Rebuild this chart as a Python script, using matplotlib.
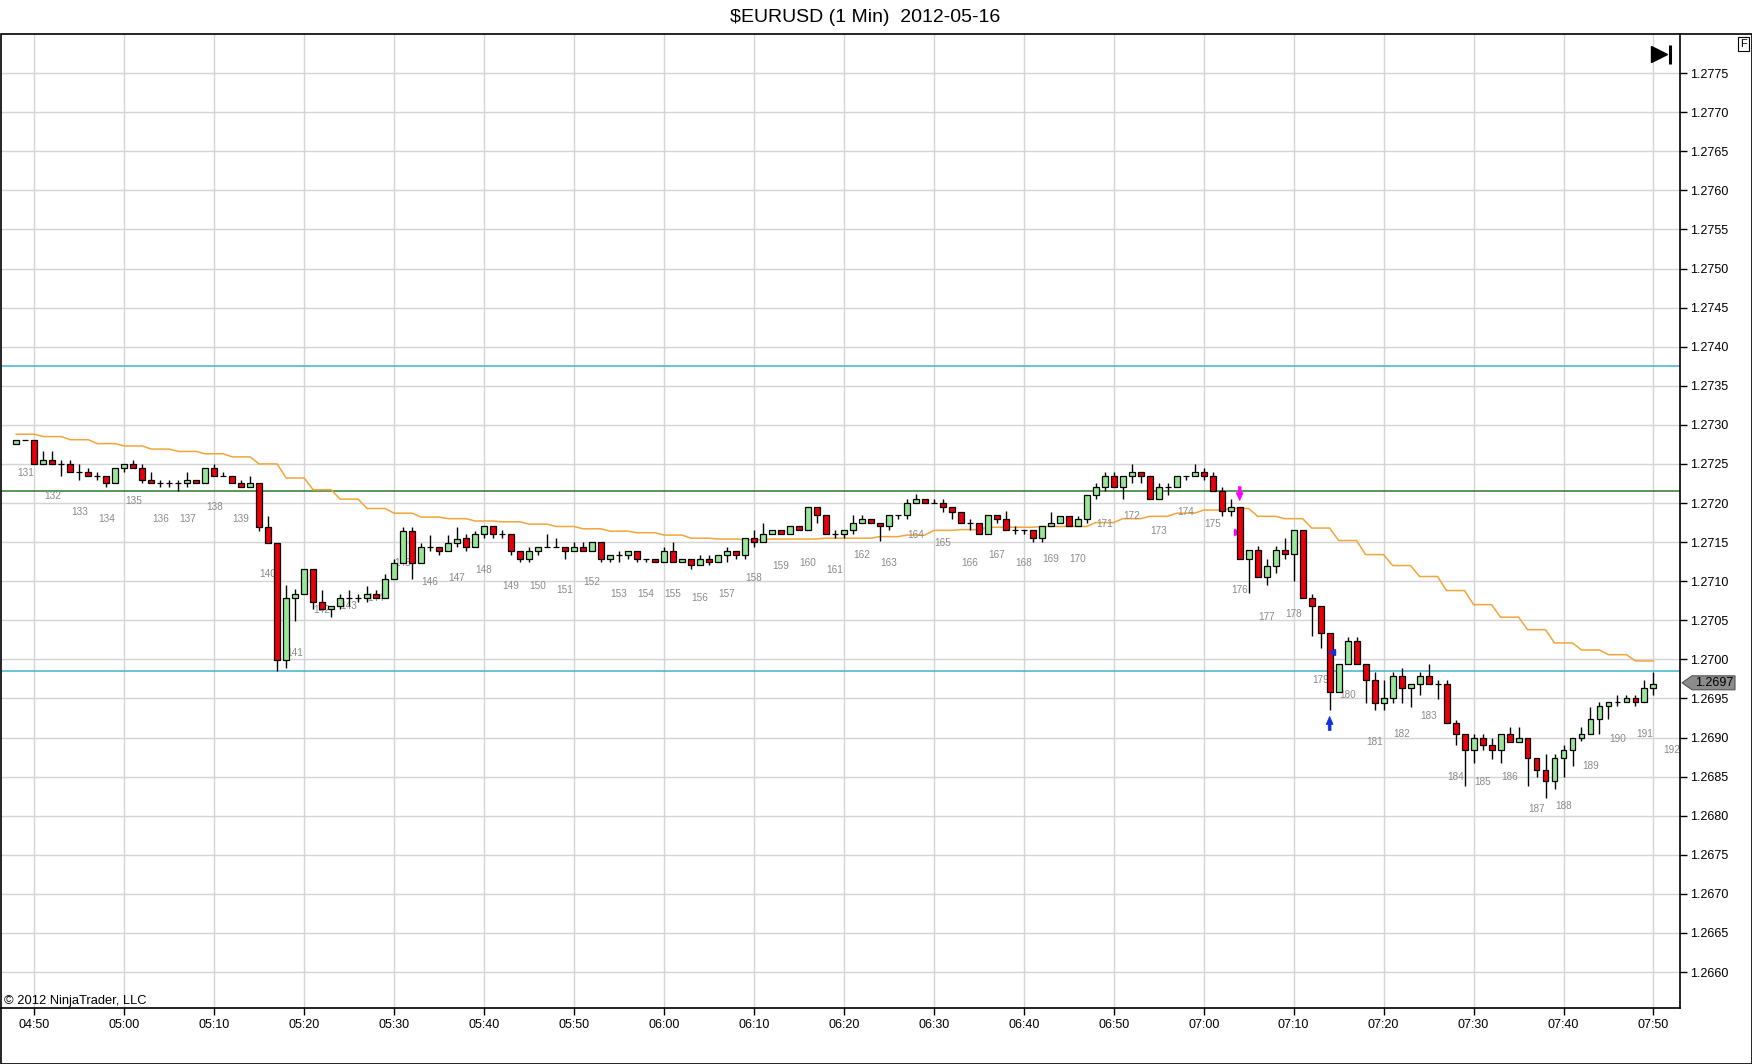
import numpy as np
import matplotlib
matplotlib.use("Agg")
import matplotlib.pyplot as plt
from matplotlib.patches import Polygon, Rectangle
from matplotlib.transforms import blended_transform_factory

plt.rcParams['font.family'] = ['Liberation Sans', 'DejaVu Sans']

TITLE = "$EURUSD (1 Min)  2012-05-16"

# minutes after 04:50, one bar per minute (04:48 .. 07:50)
MINUTES = list(range(-2, 181))

OPENS = [
    1.27276, 1.27281, 1.27281, 1.2725, 1.27255, 1.2725, 1.2725, 1.2724, 1.2724, 1.27235,
    1.27235, 1.27225, 1.27245, 1.2725, 1.27245, 1.2723, 1.27225, 1.27225, 1.27225, 1.27225,
    1.2723, 1.27225, 1.27245, 1.27235, 1.27235, 1.27225, 1.2722, 1.27225, 1.27169, 1.27149,
    1.26999, 1.27079, 1.27084, 1.27115, 1.27073, 1.27065, 1.27068, 1.27079, 1.27079, 1.27079,
    1.27084, 1.27079, 1.27103, 1.27123, 1.27164, 1.27123, 1.27144, 1.27144, 1.27138, 1.27149,
    1.27155, 1.27144, 1.2716, 1.27171, 1.2716, 1.2716, 1.27139, 1.27129, 1.27139, 1.27144,
    1.27144, 1.27144, 1.27139, 1.27144, 1.27139, 1.2715, 1.27129, 1.27134, 1.27134, 1.27139,
    1.27129, 1.27129, 1.27124, 1.27139, 1.27124, 1.27129, 1.27121, 1.27129, 1.27124, 1.27134,
    1.27139, 1.27134, 1.27155, 1.2715, 1.2716, 1.27165, 1.2716, 1.27171, 1.27165, 1.27195,
    1.27185, 1.27161, 1.27161, 1.27165, 1.27175, 1.27179, 1.27175, 1.27171, 1.27185, 1.27185,
    1.272, 1.27205, 1.272, 1.272, 1.27195, 1.27189, 1.27174, 1.27174, 1.27161, 1.27185,
    1.27179, 1.27165, 1.27165, 1.27165, 1.27155, 1.2717, 1.27174, 1.27184, 1.2717, 1.27179,
    1.2721, 1.27221, 1.27235, 1.27221, 1.27235, 1.2724, 1.27235, 1.27205, 1.27221, 1.27221,
    1.27235, 1.27235, 1.2724, 1.27235, 1.27215, 1.2719, 1.27195, 1.27129, 1.2714, 1.27105,
    1.2712, 1.2714, 1.27135, 1.27165, 1.27079, 1.27068, 1.27034, 1.26958, 1.26994, 1.27024,
    1.26994, 1.26974, 1.26944, 1.2695, 1.26979, 1.26964, 1.26969, 1.26979, 1.26969, 1.26969,
    1.26918, 1.26905, 1.26884, 1.269, 1.2689, 1.26884, 1.26905, 1.26894, 1.269, 1.26874,
    1.26859, 1.26845, 1.26874, 1.26884, 1.269, 1.26905, 1.26924, 1.2694, 1.26945, 1.26945,
    1.2695, 1.26945, 1.26964,
]
HIGHS = [
    1.27281, 1.27281, 1.27281, 1.27266, 1.27266, 1.27255, 1.27255, 1.2725, 1.27245, 1.2724,
    1.27235, 1.27245, 1.2725, 1.27255, 1.2725, 1.2724, 1.2723, 1.2723, 1.2723, 1.2724,
    1.2723, 1.27245, 1.2725, 1.2724, 1.27235, 1.2723, 1.27235, 1.27225, 1.27183, 1.27149,
    1.27095, 1.2709, 1.27115, 1.27115, 1.27089, 1.27068, 1.27084, 1.27089, 1.27084, 1.27094,
    1.27089, 1.27109, 1.27128, 1.27169, 1.27169, 1.27149, 1.27159, 1.27144, 1.27159, 1.27169,
    1.2716, 1.27164, 1.27171, 1.27171, 1.27166, 1.2716, 1.27139, 1.27144, 1.27144, 1.2716,
    1.27155, 1.27144, 1.2715, 1.2715, 1.2715, 1.2715, 1.27134, 1.27139, 1.27139, 1.27139,
    1.27129, 1.27129, 1.27144, 1.2715, 1.27129, 1.27129, 1.27134, 1.27134, 1.27134, 1.27144,
    1.27139, 1.27155, 1.27166, 1.27175, 1.27165, 1.27165, 1.27171, 1.27171, 1.27195, 1.27195,
    1.27185, 1.27166, 1.27165, 1.27185, 1.27185, 1.27179, 1.27175, 1.27185, 1.27185, 1.27205,
    1.27211, 1.27205, 1.27205, 1.27205, 1.27195, 1.27189, 1.27179, 1.27174, 1.27185, 1.27185,
    1.2719, 1.2717, 1.27165, 1.27165, 1.2717, 1.27189, 1.27184, 1.27184, 1.27184, 1.2721,
    1.27226, 1.2724, 1.2724, 1.27235, 1.2725, 1.2724, 1.27235, 1.27226, 1.27226, 1.27235,
    1.27235, 1.2725, 1.27245, 1.2724, 1.27221, 1.27205, 1.27195, 1.2714, 1.27145, 1.27129,
    1.27145, 1.27155, 1.27165, 1.27165, 1.27084, 1.27068, 1.27034, 1.26994, 1.27029, 1.27029,
    1.26994, 1.26984, 1.26974, 1.26984, 1.26989, 1.26969, 1.26984, 1.26994, 1.26974, 1.26974,
    1.26923, 1.26905, 1.26905, 1.26905, 1.269, 1.26905, 1.26913, 1.26913, 1.269, 1.26874,
    1.26879, 1.26879, 1.2689, 1.269, 1.26914, 1.26939, 1.26945, 1.26945, 1.26955, 1.26955,
    1.26955, 1.26974, 1.26984,
]
LOWS = [
    1.27276, 1.27281, 1.2725, 1.2725, 1.2725, 1.27234, 1.2724, 1.2723, 1.27235, 1.27229,
    1.2722, 1.27225, 1.2724, 1.27245, 1.27225, 1.27225, 1.2722, 1.2722, 1.27216, 1.2722,
    1.27225, 1.27225, 1.27235, 1.27235, 1.27225, 1.2722, 1.2722, 1.27164, 1.27149, 1.26985,
    1.26989, 1.27049, 1.27084, 1.27065, 1.27065, 1.27054, 1.27065, 1.27068, 1.27073, 1.27073,
    1.27079, 1.27079, 1.27103, 1.27123, 1.27103, 1.27123, 1.27138, 1.27133, 1.27138, 1.27144,
    1.27139, 1.27144, 1.27155, 1.27155, 1.27155, 1.27134, 1.27124, 1.27124, 1.27134, 1.27144,
    1.27144, 1.27129, 1.27139, 1.27139, 1.27139, 1.27124, 1.27124, 1.27124, 1.27129, 1.27124,
    1.27124, 1.27124, 1.27124, 1.27124, 1.27124, 1.27115, 1.27121, 1.27121, 1.27124, 1.27124,
    1.27129, 1.27129, 1.27144, 1.2715, 1.2716, 1.2716, 1.2716, 1.27165, 1.27165, 1.27174,
    1.27161, 1.27155, 1.27155, 1.2716, 1.27175, 1.27175, 1.27151, 1.27165, 1.27179, 1.27179,
    1.272, 1.272, 1.272, 1.27189, 1.27179, 1.27174, 1.27165, 1.27161, 1.27161, 1.27174,
    1.27165, 1.2716, 1.2716, 1.2715, 1.2715, 1.2717, 1.27174, 1.2717, 1.2717, 1.27174,
    1.27205, 1.27215, 1.27221, 1.27205, 1.27226, 1.27226, 1.27205, 1.27205, 1.2721, 1.27221,
    1.2723, 1.27235, 1.2723, 1.27215, 1.27184, 1.27184, 1.27129, 1.27085, 1.27105, 1.27095,
    1.2711, 1.27129, 1.271, 1.27079, 1.2703, 1.27014, 1.26935, 1.26958, 1.26994, 1.26994,
    1.26944, 1.26935, 1.26935, 1.26944, 1.26944, 1.26939, 1.26954, 1.26969, 1.26949, 1.26918,
    1.2689, 1.26838, 1.26868, 1.26884, 1.26873, 1.26868, 1.26894, 1.26894, 1.26838, 1.26849,
    1.26823, 1.26834, 1.26849, 1.26864, 1.26896, 1.26905, 1.26905, 1.26924, 1.2694, 1.26945,
    1.2694, 1.26945, 1.26955,
]
CLOSES = [
    1.27281, 1.27281, 1.2725, 1.27255, 1.2725, 1.2725, 1.2724, 1.2724, 1.27235, 1.27235,
    1.27225, 1.27245, 1.2725, 1.27245, 1.2723, 1.27225, 1.27225, 1.27225, 1.27225, 1.2723,
    1.27225, 1.27245, 1.27235, 1.27235, 1.27225, 1.2722, 1.27225, 1.27169, 1.27149, 1.26999,
    1.27079, 1.27084, 1.27115, 1.27073, 1.27065, 1.27068, 1.27079, 1.27079, 1.27079, 1.27084,
    1.27079, 1.27103, 1.27123, 1.27164, 1.27123, 1.27144, 1.27144, 1.27138, 1.27149, 1.27154,
    1.27144, 1.2716, 1.27171, 1.2716, 1.2716, 1.27139, 1.27129, 1.27139, 1.27144, 1.27144,
    1.27144, 1.27139, 1.27144, 1.27139, 1.2715, 1.27129, 1.27134, 1.27134, 1.27139, 1.27129,
    1.27129, 1.27124, 1.27139, 1.27124, 1.27129, 1.27121, 1.27129, 1.27124, 1.27134, 1.27139,
    1.27134, 1.27155, 1.2715, 1.2716, 1.27165, 1.2716, 1.27171, 1.27165, 1.27195, 1.27185,
    1.27161, 1.27161, 1.27165, 1.27175, 1.27179, 1.27175, 1.27171, 1.27185, 1.27185, 1.272,
    1.27205, 1.272, 1.272, 1.27195, 1.27189, 1.27174, 1.27174, 1.27161, 1.27185, 1.27179,
    1.27165, 1.27165, 1.27165, 1.27155, 1.2717, 1.27174, 1.27184, 1.2717, 1.27179, 1.2721,
    1.27221, 1.27235, 1.27221, 1.27235, 1.2724, 1.27235, 1.27205, 1.27221, 1.27221, 1.27235,
    1.27235, 1.2724, 1.27235, 1.27215, 1.2719, 1.27195, 1.27129, 1.2714, 1.27105, 1.2712,
    1.2714, 1.27135, 1.27165, 1.27079, 1.27068, 1.27034, 1.26958, 1.26994, 1.27024, 1.26994,
    1.26974, 1.26944, 1.2695, 1.26979, 1.26964, 1.26969, 1.26979, 1.26969, 1.26969, 1.26918,
    1.26905, 1.26884, 1.269, 1.2689, 1.26884, 1.26905, 1.26894, 1.269, 1.26874, 1.26859,
    1.26845, 1.26874, 1.26884, 1.269, 1.26905, 1.26924, 1.2694, 1.26945, 1.26945, 1.2695,
    1.26945, 1.26964, 1.26969,
]

# orange indicator, one value per 3-minute block (held for 3 bars)
ORANGE_3MIN = [
    1.27288, 1.27285, 1.27281, 1.27276, 1.27273, 1.27269, 1.27266, 1.27263, 1.27259, 1.2725,
    1.27232, 1.27217, 1.27205, 1.27193, 1.27187, 1.27182, 1.2718, 1.27177, 1.27176, 1.27173,
    1.2717, 1.27167, 1.27164, 1.27162, 1.27159, 1.27155, 1.27154, 1.27153, 1.27154, 1.27154,
    1.27155, 1.27155, 1.27157, 1.27159, 1.27165, 1.27166, 1.27169, 1.27169, 1.2717, 1.2717,
    1.27175, 1.2718, 1.27183, 1.27187, 1.27191, 1.27193, 1.27183, 1.2718, 1.27168, 1.27152,
    1.27134, 1.2712, 1.27106, 1.27088, 1.2707, 1.27054, 1.27038, 1.27021, 1.27012, 1.27006,
    1.26998,
]

# 3-minute bar counter labels
LABEL_NUMS = list(range(131, 193))
LABEL_MINUTES = list(range(-1, 183, 3))
LABEL_PRICES = [
    1.27239, 1.27209, 1.27189, 1.27179, 1.27203, 1.27179, 1.27179, 1.27195, 1.27179, 1.27109,
    1.27008, 1.27063, 1.27068, 1.27078, 1.27123, 1.27099, 1.27104, 1.27114, 1.27094, 1.27094,
    1.27089, 1.27099, 1.27084, 1.27084, 1.27084, 1.27078, 1.27084, 1.27104, 1.2712, 1.27123,
    1.27114, 1.27133, 1.27123, 1.27159, 1.27149, 1.27123, 1.27133, 1.27123, 1.27129, 1.27129,
    1.27173, 1.27183, 1.27164, 1.27189, 1.27173, 1.27089, 1.27054, 1.27058, 1.26974, 1.26954,
    1.26894, 1.26904, 1.26928, 1.26849, 1.26843, 1.26849, 1.26809, 1.26813, 1.26863, 1.26898,
    1.26904, 1.26884,
]

# signal arrows: bar minute, arrow tip price, direction (+1 up, -1 down)
SIGNAL_MINUTES = [134, 144]
SIGNAL_TIPS = [1.27203, 1.26927]
SIGNAL_DIRS = [-1, 1]
SIGNAL_COLORS = ['#ff00ff', '#1030e0']

CYAN_LEVELS = [1.27375, 1.26985]
GREEN_LEVEL = 1.27215
LAST_PRICE = 1.2697

TIME_TICKS = list(range(0, 181, 10))
TIME_LABELS = ['04:50', '05:00', '05:10', '05:20', '05:30', '05:40', '05:50',
               '06:00', '06:10', '06:20', '06:30', '06:40', '06:50',
               '07:00', '07:10', '07:20', '07:30', '07:40', '07:50']
PRICE_TICKS = np.linspace(1.2660, 1.2775, 24)

W, H = 1752, 1064
PX_PER_PRICE = 78200      # vertical pixels per 1.0 of price
PX_PER_MIN = 9            # horizontal pixels per bar

fig = plt.figure(figsize=(W / 100, H / 100), dpi=100)
ax = fig.add_axes([1 / W, 1 - 1008 / H, 1679 / W, 974 / H])

x = np.array(MINUTES, dtype=float)
o = np.array(OPENS)
h = np.array(HIGHS)
l = np.array(LOWS)
c = np.array(CLOSES)

# ── grid & reference lines ──────────────────────────────────────
ax.set_axisbelow(True)
ax.grid(True, color='#d4d4d4', linewidth=1)
for lv in CYAN_LEVELS:
    ax.axhline(lv, color='#3fb3cc', linewidth=1.1, zorder=1.2)
ax.axhline(GREEN_LEVEL, color='#2b7a2b', linewidth=1.1, zorder=1.2)

ax.plot(x, np.repeat(ORANGE_3MIN, 3), color='#f2a53a', linewidth=1.1, zorder=1.4)

for n, m, p in zip(LABEL_NUMS, LABEL_MINUTES, LABEL_PRICES):
    ax.text(m, p, str(n), ha='center', va='center', fontsize=7.2,
            color='#8a8a8a', zorder=1.5)

# ── candles ────────────────────────────────────────────────────
colors = np.where(c >= o, '#98e698', '#e8000b')
ax.vlines(x, l, h, color='black', linewidth=1, zorder=2)
ax.bar(x, c - o, bottom=o, width=0.66, color=colors, edgecolor='black',
       linewidth=0.9, zorder=3)


def signal_arrow(m, tip, direction, color):
    # arrow 14 px tall: 8 px head (7 px wide), 3 px wide shaft
    hw, sw = 3.5 / PX_PER_MIN, 1.4 / PX_PER_MIN
    head, total = 8 / PX_PER_PRICE, 14 / PX_PER_PRICE
    base = tip - direction * head
    tail = tip - direction * total
    pts = [(m, tip), (m + hw, base), (m + sw, base), (m + sw, tail),
           (m - sw, tail), (m - sw, base), (m - hw, base)]
    ax.add_patch(Polygon(pts, closed=True, facecolor=color, edgecolor=color,
                         linewidth=0.5, zorder=4))


for m, tip, d, col in zip(SIGNAL_MINUTES, SIGNAL_TIPS, SIGNAL_DIRS, SIGNAL_COLORS):
    signal_arrow(m, tip, d, col)

ax.plot([133.7], [1.27163], marker='>', color='#ff00ff', markersize=5, zorder=2.5)
ax.plot([144.3], [1.27009], marker='<', color='#1030e0', markersize=5, zorder=4)

# ── axes ───────────────────────────────────────────────────────
ax.set_xlim(-3.7, 182.95)
ax.set_ylim(1.26554, 1.27800)
ax.set_xticks(TIME_TICKS)
ax.set_xticklabels(TIME_LABELS)
ax.yaxis.tick_right()
ax.set_yticks(PRICE_TICKS)
ax.set_yticklabels([f"{v:.4f}" for v in PRICE_TICKS])
ax.tick_params(axis='both', direction='out', length=5, width=1, labelsize=9, colors='black')
ax.tick_params(axis='y', pad=2)
ax.tick_params(axis='x', pad=3)
for side in ['left', 'top']:
    ax.spines[side].set_visible(False)
for side in ['right', 'bottom']:
    ax.spines[side].set_linewidth(1.2)

# last price tag
tr = blended_transform_factory(ax.transAxes, ax.transData)
dx = 1 / 1679
dy = 7 / PX_PER_PRICE
tag = Polygon([(1 + 2 * dx, LAST_PRICE), (1 + 12 * dx, LAST_PRICE + dy),
               (1 + 55 * dx, LAST_PRICE + dy), (1 + 55 * dx, LAST_PRICE - dy),
               (1 + 12 * dx, LAST_PRICE - dy)], closed=True, transform=tr,
              facecolor='#8c8c8c', edgecolor='#555555', linewidth=0.8, clip_on=False, zorder=5)
ax.add_patch(tag)
ax.text(1 + 34 * dx, LAST_PRICE, f"{LAST_PRICE:.4f}", transform=tr, ha='center',
        va='center', fontsize=9, color='black', zorder=6, clip_on=False)

# ">|" scroll icon and copyright
ax.plot([1658 / 1679], [1 - 20 / 974], marker='>', color='black', markersize=11,
        transform=ax.transAxes, clip_on=False, zorder=6)
ax.plot([1669 / 1679, 1669 / 1679], [1 - 11 / 974, 1 - 30 / 974], color='black',
        linewidth=2.2, transform=ax.transAxes, solid_capstyle='butt', zorder=6)
ax.text(3 / 1679, 4 / 974, "\u00a9 2012 NinjaTrader, LLC", transform=ax.transAxes,
        fontsize=9.3, ha='left', va='baseline', color='black', zorder=6)

# ── frame, title, F box ────────────────────────────────────────
fig.add_artist(Rectangle((0.5 / W, 0.5 / H), (W - 1) / W, (H - 34.5) / H,
                         transform=fig.transFigure, fill=False, edgecolor='black',
                         linewidth=1.2))
fig.text(865 / W, 1 - 17 / H, TITLE, ha='center', va='center', fontsize=14)
fig.text(1743.5 / W, 1 - 44 / H, 'F', ha='center', va='center', fontsize=8,
         bbox=dict(boxstyle='square,pad=0.2', facecolor='white', edgecolor='black',
                   linewidth=0.8))

fig.savefig('out.png', dpi=100)
